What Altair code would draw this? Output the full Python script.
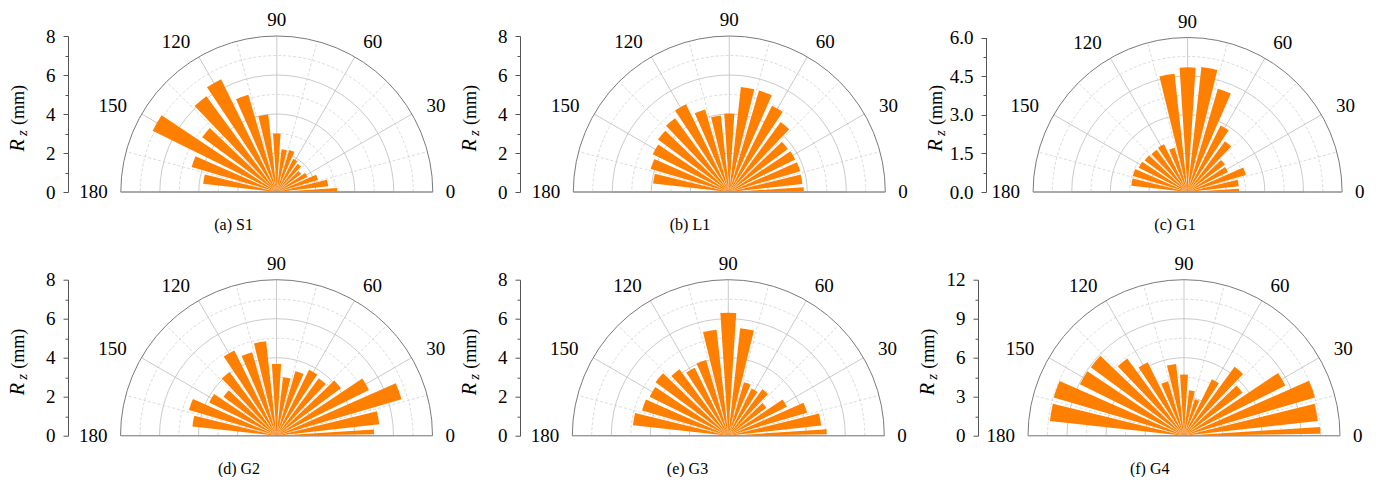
import math
import altair as alt
import pandas as pd

# ---------------- data ----------------
ANGLES = list(range(0, 180, 10))
S1 = [3.1, 2.65, 2.2, 1.75, 1.55, 1.8, 1.9, 2.25, 2.2, 3.0, 4.0, 5.2, 6.45, 6.1, 4.75, 7.1, 4.55, 3.8]
L1 = [3.82, 3.77, 3.79, 3.77, 3.73, 4.45, 4.94, 5.42, 5.42, 4.02, 3.95, 4.41, 5.02, 4.7, 4.54, 4.38, 4.2, 3.93]
G1 = [2.0, 2.0, 2.36, 1.75, 1.8, 2.45, 2.88, 4.18, 4.88, 4.84, 4.62, 1.79, 2.07, 2.03, 2.07, 2.12, 2.22, 2.2]
G2 = [5.0, 5.3, 6.68, 5.29, 4.1, 3.66, 3.77, 3.45, 3.02, 3.68, 4.87, 4.46, 4.88, 4.06, 3.38, 3.85, 4.68, 4.34]
G3 = [5.05, 4.79, 4.21, 3.35, 2.42, 2.95, 2.7, 2.85, 5.55, 6.31, 5.47, 4.05, 3.89, 4.23, 4.63, 4.5, 4.61, 4.92]
G4 = [10.5, 10.35, 10.5, 8.7, 5.59, 6.57, 4.84, 2.93, 3.52, 4.7, 5.55, 4.36, 6.3, 7.38, 8.9, 8.93, 10.45, 10.38]

CAPTIONS = ["(a) S1", "(b) L1", "(c) G1", "(d) G2", "(e) G3", "(f) G4"]
SERIES = [S1, L1, G1, G2, G3, G4]
RMAX = [8, 8, 6, 8, 8, 12]
RSTEP = [2, 2, 1.5, 2, 2, 3]
RFMT = [".0f", ".0f", ".1f", ".0f", ".0f", ".0f"]
MAJOR_ANGLES = [30, 60, 90, 120, 150]
MINOR_ANGLES = [15, 45, 75, 105, 135, 165]

# ---------------- style / layout ----------------
FONT = "Liberation Serif"
ORANGE = "#ff8000"
H = 155
# per panel: center x (px from view left), radius, view width, caption x
GEOM = [
    (208.8, 156, 452, 165.6),
    (209.3, 156, 466, 170),
    (201.6, 154.5, 380, 189),
    (208.5, 156, 452, 171),
    (208.3, 156, 458, 167.5),
    (206.0, 156, 380, 171.7),
]
AXIS_GREY = "#555555"


def panel(i):
    cap, vals, vmax, g, fmt = CAPTIONS[i], SERIES[i], RMAX[i], RSTEP[i], RFMT[i]
    cx, R, W, capx = GEOM[i]
    theta_sc = alt.Scale(domain=[0, 180], range=[math.pi / 2, -math.pi / 2], nice=False)
    r_sc = alt.Scale(type="linear", domain=[0, vmax], range=[0, R], nice=False)
    xs = alt.Scale(domain=[-vmax, vmax], range=[cx - R, cx + R], nice=False, zero=False)
    ys = alt.Scale(domain=[0, vmax], range=[H, H - R], nice=False)
    cxv, cyv = alt.value(cx), alt.value(H)

    nh = int(round(vmax / (g / 2)))
    steps = [k * g / 2 for k in range(nh + 1)]
    minor_r = [s for k, s in enumerate(steps) if k % 2 == 1]
    major_v = [s for k, s in enumerate(steps) if k % 2 == 0]
    major_r = [s for s in major_v if 0 < s < vmax]

    def axis_carrier(axis):
        return alt.Chart(pd.DataFrame({"z": [0]})).transform_calculate(
            xa=f"-{vmax}", xb=f"{vmax}", y0="0"
        ).mark_rule(opacity=0).encode(
            x=alt.X("xa:Q", scale=xs, axis=None),
            x2="xb:Q",
            y=alt.Y("y0:Q", scale=ys, axis=axis),
        )

    major_axis = axis_carrier(alt.Axis(
        orient="left", values=major_v, format=fmt, tickSize=5,
        domainColor=AXIS_GREY, tickColor=AXIS_GREY, domainWidth=1, tickWidth=1,
        labelFont=FONT, labelFontSize=19, labelColor="black", labelPadding=8,
        labelFlush=False, labelOverlap=False, grid=False, title=None,
    ))
    minor_axis = axis_carrier(alt.Axis(
        orient="left", values=minor_r, labels=False, tickSize=3, domain=False,
        tickColor=AXIS_GREY, tickWidth=1, grid=False, title=None,
    ))

    def circles(rs, color, dash=None, width=0.8):
        kw = dict(filled=False, stroke=color, strokeWidth=width)
        if dash:
            kw["strokeDash"] = dash
        return alt.Chart(pd.DataFrame({"r": rs})).transform_calculate(
            t1="0", t2="180"
        ).mark_arc(**kw).encode(
            theta=alt.Theta("t1:Q", scale=theta_sc, stack=None),
            theta2="t2:Q",
            radius=alt.Radius("r:Q", scale=r_sc),
            x=cxv, y=cyv,
        )

    def rays(angs, color, dash=None):
        kw = dict(color=color, strokeWidth=0.8)
        if dash:
            kw["strokeDash"] = dash
        return alt.Chart(pd.DataFrame({"a": angs})).transform_calculate(
            x0="0", y0="0",
            ex=f"{vmax}*cos(datum.a*PI/180)", ey=f"{vmax}*sin(datum.a*PI/180)"
        ).mark_rule(**kw).encode(
            x=alt.X("x0:Q", scale=xs, axis=None),
            y=alt.Y("y0:Q", scale=ys, axis=None),
            x2="ex:Q", y2="ey:Q",
        )

    minor_c = circles(minor_r, "#d2d2d2", [3, 2])
    major_c = circles(major_r, "#bdbdbd")
    minor_rays = rays(MINOR_ANGLES, "#d2d2d2", [3, 2])
    major_rays = rays(MAJOR_ANGLES, "#bdbdbd")
    outer = circles([vmax], "#7a7a7a", None, 1)

    baseline = alt.Chart(pd.DataFrame({"z": [0]})).transform_calculate(
        xa=f"-{vmax}", xb=f"{vmax}", y0="0"
    ).mark_rule(color="#9a9a9a", strokeWidth=1).encode(
        x=alt.X("xa:Q", scale=xs, axis=None),
        x2="xb:Q",
        y=alt.Y("y0:Q", scale=ys, axis=None),
    )

    bars = alt.Chart(pd.DataFrame({"angle": ANGLES, "value": vals})).transform_calculate(
        t1="max(datum.angle - 3.7, 0.8)", t2="datum.angle + 3.7"
    ).mark_arc(color=ORANGE).encode(
        theta=alt.Theta("t1:Q", scale=theta_sc, stack=None),
        theta2="t2:Q",
        radius=alt.Radius("value:Q", scale=r_sc),
        x=cxv, y=cyv,
    )

    def labels(angs, align, baseline_, rad):
        return alt.Chart(pd.DataFrame({"a": angs})).mark_text(
            align=align, baseline=baseline_, font=FONT, fontSize=19, color="black"
        ).encode(
            theta=alt.Theta("a:Q", scale=theta_sc, stack=None),
            radius=alt.value(rad),
            text="a:Q",
            x=cxv, y=cyv,
        )

    lab = [
        labels([0], "left", "middle", R + 13),
        labels([30, 60], "left", "middle", R + 17),
        labels([90], "center", "alphabetic", R + 10),
        labels([120, 150], "right", "middle", R + 17),
        labels([180], "right", "middle", R + 13),
    ]

    one = pd.DataFrame({"k": [0]})
    caption = alt.Chart(one).mark_text(
        text=cap, font=FONT, fontSize=16, color="black", align="center", baseline="middle"
    ).encode(x=alt.value(capx), y=alt.value(H + 33))
    t_r = alt.Chart(one).mark_text(
        text="R", font=FONT, fontSize=20, fontStyle="italic", angle=270,
        align="left", baseline="alphabetic", color="black"
    ).encode(x=alt.value(-44.4), y=alt.value(114.5))
    t_z = alt.Chart(one).mark_text(
        text="z", font=FONT, fontSize=15, fontStyle="italic", angle=270,
        align="left", baseline="alphabetic", color="black"
    ).encode(x=alt.value(-41.5), y=alt.value(99))
    t_mm = alt.Chart(one).mark_text(
        text="(mm)", font=FONT, fontSize=18, angle=270,
        align="left", baseline="alphabetic", color="black"
    ).encode(x=alt.value(-44.4), y=alt.value(88))

    layers = [major_axis, minor_axis, minor_c, major_c, minor_rays, major_rays, outer,
              baseline, bars] + lab + [caption, t_r, t_z, t_mm]
    if i == 0:
        anchor = alt.Chart(one).mark_rule(color="white", opacity=0, strokeWidth=1).encode(
            x=alt.value(-67.2), x2=alt.value(-66.7), y=alt.value(-36.8)
        )
        layers.append(anchor)
    return alt.layer(*layers).resolve_axis(y="independent").properties(width=W, height=H)


row1 = alt.hconcat(panel(0), panel(1), panel(2), spacing=0, bounds="flush")
row2 = alt.hconcat(panel(3), panel(4), panel(5), spacing=0, bounds="flush")
chart = alt.vconcat(row1, row2, spacing=H + 88.7, bounds="flush").properties(
    padding=0, background="white"
).configure_view(stroke=None)

chart.save("out.html", embed_options={"renderer": "svg", "actions": False})
